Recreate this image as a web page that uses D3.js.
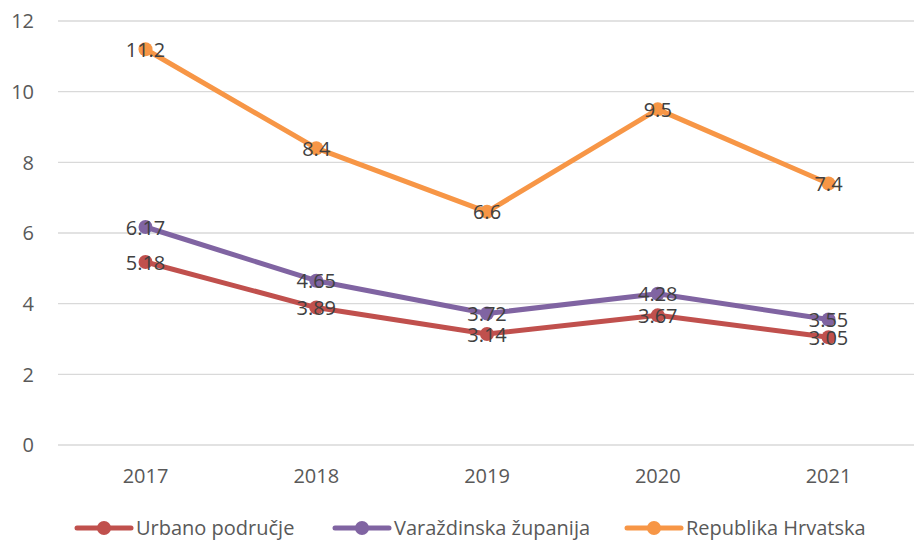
<!DOCTYPE html>
<html>
<head>
<meta charset="utf-8">
<script src="https://cdn.jsdelivr.net/npm/d3@7"></script>
<style>
  body { margin: 0; background: #fff; }
  text { font-family: "Open Sans", sans-serif; }
</style>
</head>
<body>
<div id="chart-area"></div>
<script>
const years = ["2017", "2018", "2019", "2020", "2021"]
const urbano = [5.18, 3.89, 3.14, 3.67, 3.05]
const varazdinska = [6.17, 4.65, 3.72, 4.28, 3.55]
const hrvatska = [11.2, 8.4, 6.6, 9.5, 7.4]
const seriesNames = ["Urbano područje", "Varaždinska županija", "Republika Hrvatska"]
const yTicks = [0, 2, 4, 6, 8, 10, 12]

const series = [
	{ name: seriesNames[0], values: urbano, color: "#C0504D" },
	{ name: seriesNames[1], values: varazdinska, color: "#8064A2" },
	{ name: seriesNames[2], values: hrvatska, color: "#F79646" }
]

const W = 914, H = 540
const MARGIN = { LEFT: 60, RIGHT: 0, TOP: 21, BOTTOM: 95 }

const svg = d3.select("#chart-area").append("svg")
	.attr("width", W)
	.attr("height", H)

const x = d3.scalePoint().domain(years)
	.range([MARGIN.LEFT + 85.5, W - MARGIN.RIGHT - 85.5])
const y = d3.scaleLinear().domain([0, 12]).range([H - MARGIN.BOTTOM, MARGIN.TOP])

// gridlines
svg.append("g").selectAll("line")
	.data(yTicks)
	.enter().append("line")
	.attr("x1", 58).attr("x2", W)
	.attr("y1", d => y(d)).attr("y2", d => y(d))
	.attr("stroke", "#d9d9d9")
	.attr("stroke-width", 1.3)

// y tick labels
svg.append("g").selectAll("text")
	.data(yTicks)
	.enter().append("text")
	.attr("x", 34)
	.attr("y", d => y(d))
	.attr("dy", "0.36em")
	.attr("text-anchor", "end")
	.attr("fill", "#595959")
	.attr("font-size", 20)
	.text(d => d)

// x tick labels
svg.append("g").selectAll("text")
	.data(years)
	.enter().append("text")
	.attr("x", d => x(d))
	.attr("y", 483)
	.attr("text-anchor", "middle")
	.attr("fill", "#595959")
	.attr("font-size", 20)
	.text(d => d)

const line = d3.line()
	.x((d, i) => x(years[i]))
	.y(d => y(d))

series.forEach(s => {
	const g = svg.append("g")
	g.append("path")
		.attr("d", line(s.values))
		.attr("fill", "none")
		.attr("stroke", s.color)
		.attr("stroke-width", 5)
		.attr("stroke-linejoin", "round")
		.attr("stroke-linecap", "round")
	g.selectAll("circle")
		.data(s.values)
		.enter().append("circle")
		.attr("cx", (d, i) => x(years[i]))
		.attr("cy", d => y(d))
		.attr("r", 7)
		.attr("fill", s.color)
})

// data labels on top
series.forEach(s => {
	svg.append("g").selectAll("text")
		.data(s.values)
		.enter().append("text")
		.attr("x", (d, i) => x(years[i]))
		.attr("y", d => y(d))
		.attr("dy", "0.38em")
		.attr("text-anchor", "middle")
		.attr("fill", "#404040")
		.attr("font-size", 20)
		.text(d => d)
})

// legend
const legendX = [77, 335, 627]
const legend = svg.append("g")
series.forEach((s, i) => {
	const lg = legend.append("g").attr("transform", `translate(${legendX[i]}, 528)`)
	lg.append("line")
		.attr("x1", 0).attr("x2", 54)
		.attr("stroke", s.color)
		.attr("stroke-width", 5)
		.attr("stroke-linecap", "round")
	lg.append("circle")
		.attr("cx", 27).attr("r", 7)
		.attr("fill", s.color)
	lg.append("text")
		.attr("x", 59)
		.attr("dy", "0.36em")
		.attr("fill", "#595959")
		.attr("font-size", 20)
		.text(s.name)
})
</script>
</body>
</html>
